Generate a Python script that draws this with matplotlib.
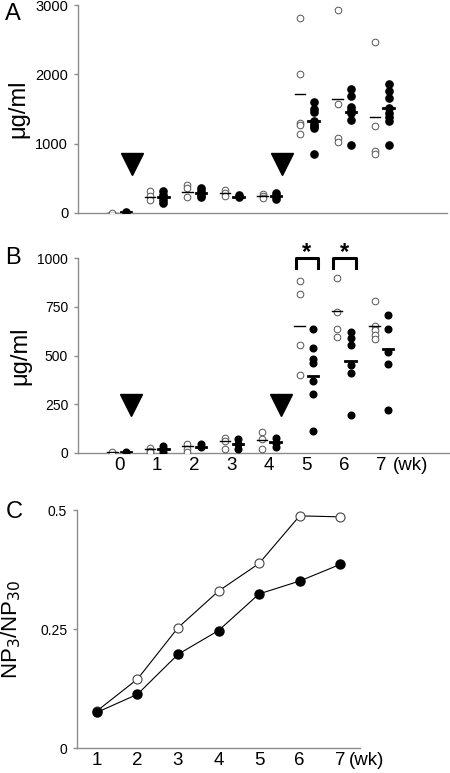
#!/usr/bin/env python3
"""
Antibody levels (A, B) and NP3/NP30 ratio (C) per week.
Output: out.png
"""
import matplotlib
matplotlib.use("Agg")
import matplotlib.pyplot as plt

plt.rcParams["font.family"] = ["Liberation Sans", "DejaVu Sans"]

weeks = [0, 1, 2, 3, 4, 5, 6, 7]
week_labels = ["0", "1", "2", "3", "4", "5", "6", "7"]
boost_weeks = [0.33, 4.33]

# panel A (ug/ml), open = group 1, filled = group 2
a_open = [
    [0],
    [320, 240, 190],
    [410, 360, 225],
    [335, 290, 240],
    [275, 240, 215],
    [2810, 2005, 1305, 1270, 1135],
    [2930, 1575, 1080, 1030],
    [2460, 1255, 900, 855],
]
a_filled = [
    [20],
    [310, 265, 230, 190, 145],
    [360, 310, 265, 230],
    [265, 225],
    [290, 240, 195],
    [1595, 1500, 1450, 1320, 1285, 1255, 1225, 855],
    [1785, 1690, 1535, 1480, 1440, 1335, 985],
    [1860, 1765, 1655, 1510, 1440, 1380, 1320, 985],
]
a_open_mean = [0, 230, 300, 290, 240, 1710, 1645, 1380]
a_filled_mean = [15, 225, 290, 230, 240, 1320, 1450, 1510]

# panel B (ug/ml)
b_open = [
    [5],
    [25, 10, 3],
    [45, 22, 5],
    [75, 62, 20],
    [110, 70, 22],
    [880, 815, 555, 400],
    [895, 725, 635, 595],
    [780, 650, 630, 605, 585],
]
b_filled = [
    [5],
    [38, 22, 5],
    [45, 32],
    [74, 48, 20],
    [78, 52, 32],
    [635, 540, 480, 460, 370, 305, 115],
    [620, 588, 555, 450, 408, 195],
    [710, 635, 520, 455, 220],
]
b_open_mean = [5, 20, 34, 62, 69, 650, 728, 650]
b_filled_mean = [5, 20, 31, 48, 57, 396, 472, 535]
b_signif_weeks = [5, 6]

# panel C
c_weeks = [1, 2, 3, 4, 5, 6, 7]
c_open = [0.078, 0.145, 0.253, 0.330, 0.388, 0.488, 0.486]
c_filled = [0.075, 0.113, 0.197, 0.247, 0.324, 0.351, 0.386]

GRAY = "#8c8c8c"
OFF = 0.18


def style_axes(ax):
    for s in ["top", "right"]:
        ax.spines[s].set_visible(False)
    for s in ["left", "bottom"]:
        ax.spines[s].set_color(GRAY)
        ax.spines[s].set_linewidth(1.0)
    ax.tick_params(axis="y", length=3, color=GRAY, width=1, pad=4)
    ax.tick_params(axis="x", length=0, pad=3)


def scatter_panel(ax, opens, filleds, open_mean, filled_mean, ms_f):
    for w in weeks:
        xo = [w - OFF] * len(opens[w])
        xf = [w + OFF] * len(filleds[w])
        ax.plot(xo, opens[w], "o", ms=4.8, mfc="white", mec="#555555", mew=0.7,
                ls="none", zorder=3)
        ax.plot(xf, filleds[w], "o", ms=ms_f, mfc="black", mec="black",
                ls="none", zorder=3)
        ax.plot([w - OFF - 0.14, w - OFF + 0.14], [open_mean[w]] * 2,
                color="black", lw=1.0, zorder=4)
        ax.plot([w + OFF - 0.14, w + OFF + 0.14], [filled_mean[w]] * 2,
                color="black", lw=2.0, zorder=4)


def wk_label(ax, x):
    # same baseline as the x tick labels
    ax.annotate("(wk)", xy=(x, 0), xycoords=ax.get_xaxis_transform(),
                xytext=(0, -3), textcoords="offset points",
                fontsize=13.5, ha="center", va="top", annotation_clip=False)


fig = plt.figure(figsize=(4.5, 7.73), dpi=100)

# ---- panel A ----
axA = fig.add_axes([0.173, 0.7245, 0.82, 0.269])
style_axes(axA)
scatter_panel(axA, a_open, a_filled, a_open_mean, a_filled_mean, 5.2)
axA.plot(boost_weeks, [700, 700], "v", ms=16, color="black", mec="black", zorder=5)
axA.set_xlim(-1.1, 8.73)
axA.set_ylim(0, 3000)
axA.set_yticks([0, 1000, 2000, 3000])
axA.set_yticklabels(["0", "1000", "2000", "3000"], fontsize=10.5)
axA.set_xticks([])
axA.set_ylabel("μg/ml", fontsize=17, labelpad=4)
fig.text(0.012, 0.982, "A", fontsize=17, ha="left", va="center")

# ---- panel B ----
axB = fig.add_axes([0.173, 0.414, 0.827, 0.2522])
style_axes(axB)
scatter_panel(axB, b_open, b_filled, b_open_mean, b_filled_mean, 4.8)
axB.plot(boost_weeks, [245, 245], "v", ms=16, color="black", mec="black", zorder=5)
for w in b_signif_weeks:
    axB.plot([w - 0.29, w - 0.29, w + 0.31, w + 0.31], [950, 1000, 1000, 950],
             color="black", lw=2.2, clip_on=False, zorder=5)
    axB.text(w + 0.01, 1030, "*", fontsize=17, ha="center", va="center",
             fontweight="bold", clip_on=False)
axB.set_xlim(-1.1, 8.83)
axB.set_ylim(0, 1000)
axB.set_yticks([0, 250, 500, 750, 1000])
axB.set_yticklabels(["0", "250", "500", "750", "1000"], fontsize=10)
axB.set_xticks(weeks)
axB.set_xticklabels(week_labels, fontsize=13.5)
wk_label(axB, 7.78)
axB.set_ylabel("μg/ml", fontsize=17, labelpad=4)
fig.text(0.012, 0.666, "B", fontsize=17, ha="left", va="center")

# ---- panel C ----
axC = fig.add_axes([0.171, 0.0323, 0.629, 0.3077])
style_axes(axC)
axC.plot(c_weeks, c_open, "-o", color="black", lw=0.8, ms=6.5, mfc="white",
         mec="#444444", mew=0.8, zorder=3)
axC.plot(c_weeks, c_filled, "-o", color="black", lw=0.8, ms=6.5, mfc="black",
         mec="black", zorder=3)
axC.set_xlim(0.506, 7.49)
axC.set_ylim(0, 0.5)
axC.set_yticks([0, 0.25, 0.5])
axC.set_yticklabels(["0", "0.25", "0.5"], fontsize=10)
axC.set_xticks(c_weeks)
axC.set_xticklabels([str(w) for w in c_weeks], fontsize=13.5)
wk_label(axC, 7.65)
axC.set_ylabel("NP$_3$/NP$_{30}$", fontsize=16, labelpad=12)
fig.text(0.012, 0.338, "C", fontsize=17, ha="left", va="center")

fig.savefig("out.png", dpi=100, facecolor="white")
plt.close(fig)
